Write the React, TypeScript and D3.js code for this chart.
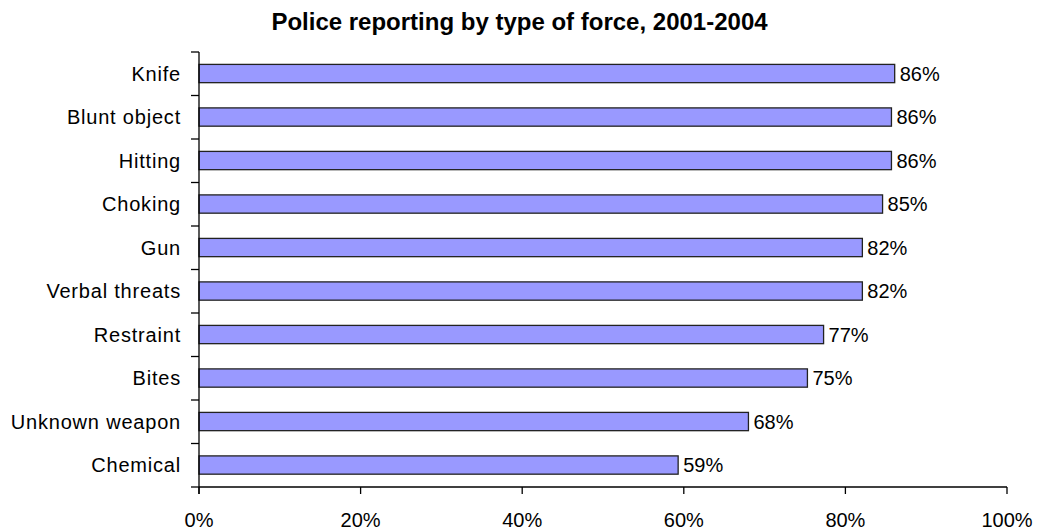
import React from "react";
import * as d3 from "d3";

const categories = ["Knife", "Blunt object", "Hitting", "Choking", "Gun", "Verbal threats", "Restraint", "Bites", "Unknown weapon", "Chemical"];
const values = [0.861, 0.857, 0.857, 0.846, 0.821, 0.821, 0.773, 0.753, 0.68, 0.593];
const valueLabels = ["86%", "86%", "86%", "85%", "82%", "82%", "77%", "75%", "68%", "59%"];
const xTicks = [0, 0.2, 0.4, 0.6, 0.8, 1.0];
const title = "Police reporting by type of force, 2001-2004";

export default function App() {
  const W = 1039, H = 531;
  const left = 199, right = 1007, top = 52, bottom = 487;
  const x = d3.scaleLinear().domain([0, 1]).range([left, right]);
  const y = d3.scaleBand<string>().domain(categories).range([top, bottom]).padding(0);
  const step = y.step();
  const font = "'Liberation Sans', Arial, sans-serif";
  const fmt = d3.format(".0%");
  return (
    <svg width={W} height={H} style={{ position: "absolute", left: 0, top: 0, background: "#fff" }} fontFamily={font}>
      <text x={W / 2} y={30} textAnchor="middle" fontSize={24} fontWeight="bold" fill="#000">{title}</text>
      {categories.map((c, i) => (
        <g key={c}>
          <rect x={x(0)} y={(y(c) as number) + step * 0.285} width={x(values[i]) - x(0)} height={step * 0.42}
            fill="#9999FF" stroke="#222" strokeWidth={1.3} />
          <text x={x(values[i]) + 5} y={(y(c) as number) + step * 0.495} dominantBaseline="central" fontSize={20} fill="#000">{valueLabels[i]}</text>
          <text x={181} y={(y(c) as number) + step / 2} dominantBaseline="central" textAnchor="end" fontSize={20} letterSpacing={0.8} fill="#000">{c}</text>
          <line x1={191} x2={left} y1={y(c) as number} y2={y(c) as number} stroke="#000" strokeWidth={1.3} />
        </g>
      ))}
      <line x1={191} x2={left} y1={bottom} y2={bottom} stroke="#000" strokeWidth={1.3} />
      <line x1={left} x2={left} y1={top} y2={bottom + 7} stroke="#000" strokeWidth={1.3} />
      <line x1={left} x2={right} y1={bottom} y2={bottom} stroke="#000" strokeWidth={1.3} />
      {xTicks.map((t) => (
        <g key={t}>
          <line x1={x(t)} x2={x(t)} y1={bottom} y2={bottom + 7} stroke="#000" strokeWidth={1.3} />
          <text x={x(t)} y={527} textAnchor="middle" fontSize={20} fill="#000">{fmt(t)}</text>
        </g>
      ))}
    </svg>
  );
}
